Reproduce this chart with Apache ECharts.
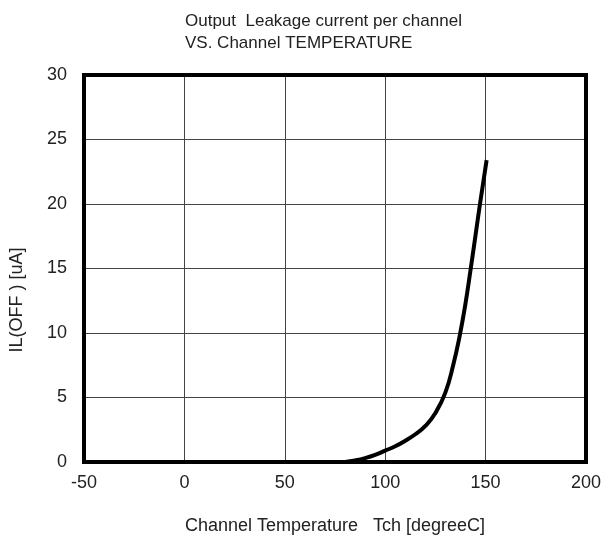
<!DOCTYPE html>
<html><head><meta charset="utf-8">
<script src="https://cdn.jsdelivr.net/npm/echarts@6/dist/echarts.min.js"></script>
<style>html,body{margin:0;padding:0;background:#fff}#c{width:604px;height:543px}</style>
</head><body><div id="c"></div>
<script>
var xTicks = [-50, 0, 50, 100, 150, 200];
var yTicks = [0, 5, 10, 15, 20, 25, 30];
var lowTemp = [-40, 0, 40, 80];
var lowCurrent = [0.08, 0.08, 0.08, 0.08];
var temp = [80, 85, 90, 95, 100, 105, 110, 115, 120, 125, 130, 134, 137, 140, 142.6, 145, 147.2, 150.5];
var current = [0, 0.12, 0.3, 0.55, 0.88, 1.22, 1.65, 2.15, 2.8, 3.8, 5.4, 7.6, 9.7, 12.3, 15, 17.6, 20, 23.4];

var chart = echarts.init(document.getElementById('c'));
var font = 'Liberation Sans, Arial, sans-serif';
chart.setOption({
  animation: false,
  title: {
    text: 'Output  Leakage current per channel\nVS. Channel TEMPERATURE',
    left: 180, top: 5,
    textStyle: {fontFamily: font, fontSize: 17, fontWeight: 'normal', color: '#222', lineHeight: 22}
  },
  grid: {left: 84, right: 18, top: 75, bottom: 81, containLabel: false, outerBoundsMode: 'none'},
  xAxis: {
    type: 'value', min: -50, max: 200, interval: 50,
    name: 'Channel Temperature   Tch [degreeC]', nameLocation: 'middle', nameGap: 55,
    nameTextStyle: {fontFamily: font, fontSize: 18, color: '#222'},
    axisLine: {show: false},
    axisTick: {show: false},
    axisLabel: {fontFamily: font, fontSize: 18, color: '#222', margin: 12},
    splitLine: {show: true, lineStyle: {color: '#444', width: 1}}
  },
  yAxis: {
    type: 'value', min: 0, max: 30, interval: 5,
    axisLine: {show: false},
    axisTick: {show: false},
    axisLabel: {fontFamily: font, fontSize: 18, color: '#222', margin: 17},
    splitLine: {show: true, lineStyle: {color: '#444', width: 1}}
  },
  series: [
    {type: 'line', data: lowTemp.map(function(t, i){return [t, lowCurrent[i]];}),
     showSymbol: false, lineStyle: {color: '#999', width: 1}},
    {type: 'line', data: temp.map(function(t, i){return [t, current[i]];}),
     smooth: 0.5, showSymbol: false, lineStyle: {color: '#000', width: 4}}
  ]
});
var p0 = chart.convertToPixel({gridIndex: 0}, [-50, 30]);
var p1 = chart.convertToPixel({gridIndex: 0}, [200, 0]);
chart.setOption({graphic: [
  {type: 'rect', shape: {x: p0[0], y: p0[1], width: p1[0]-p0[0], height: p1[1]-p0[1]},
   style: {fill: 'none', stroke: '#000', lineWidth: 4}, z: 100},
  {type: 'text', x: 17, y: 300, rotation: Math.PI/2,
   style: {text: 'IL(OFF ) [uA]', fontFamily: font, fontSize: 18, fill: '#222', align: 'center', verticalAlign: 'middle'}}
]});
</script></body></html>
